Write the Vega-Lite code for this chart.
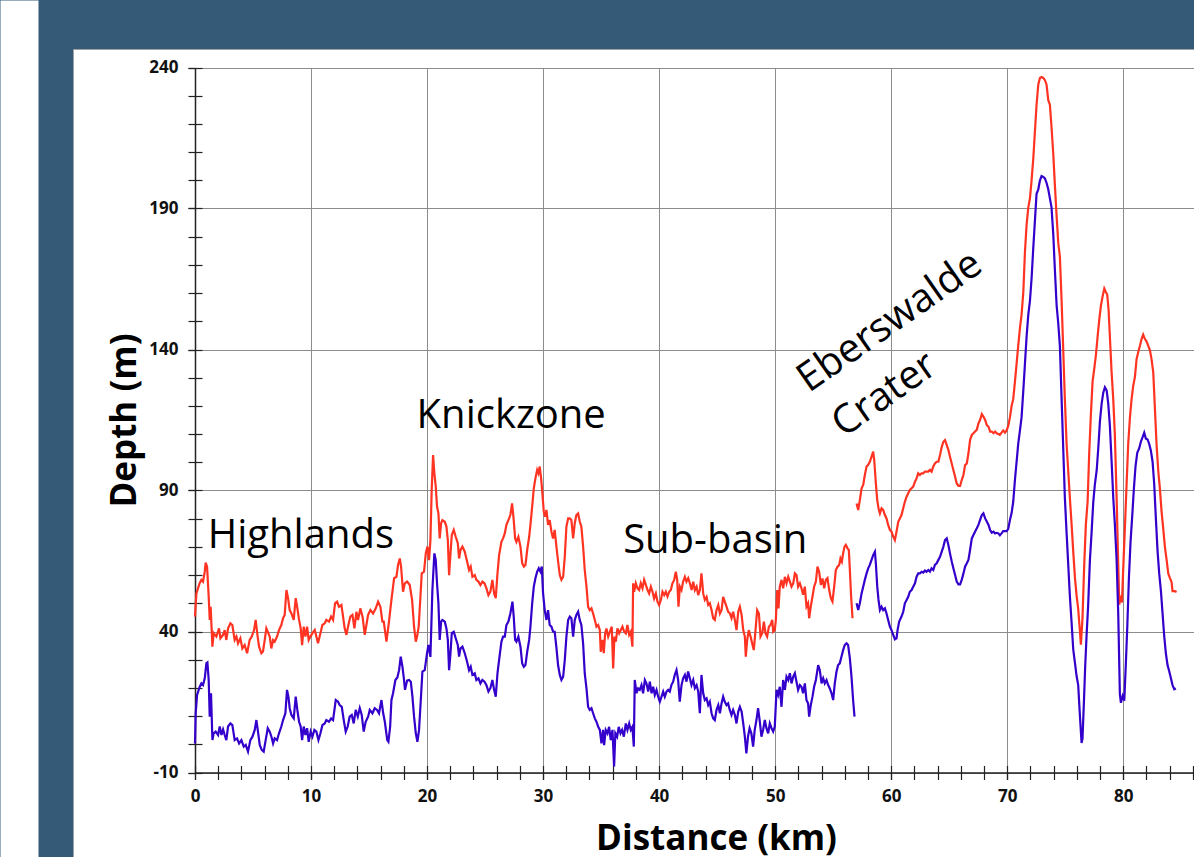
{
"$schema": "https://vega.github.io/schema/vega-lite/v6.json",
"width": 1121, "height": 808,
"autosize": {"type": "none"},
"padding": {"left": 73, "top": 49, "right": 0, "bottom": 0},
"background": "#345a78",
"config": {
 "view": {"fill": "white", "stroke": "#a0a0a0", "strokeWidth": 1},
 "axis": {"labelFont": "Open Sans", "labelFontWeight": "bold", "labelFontSize": 17, "labelColor": "#111", "titleFont": "Open Sans", "titleFontWeight": "bold", "titleFontSize": 35, "titleColor": "#000", "tickColor": "#222", "domainColor": "#222", "gridColor": "#8c8c8c"}
},
"datasets": {
 "labels": [
  {"label": "Highlands", "km": 1.1, "depth": 69.6},
  {"label": "Knickzone", "km": 19.1, "depth": 112.2},
  {"label": "Sub-basin", "km": 36.9, "depth": 67.8}
 ],
 "craterLabels": [
  {"label": "Eberswalde", "km": 52.9, "depth": 124.5},
  {"label": "Crater", "km": 55.9, "depth": 108.6}
 ],
 "profile": [
{"km":0,"depth":45.3,"series":"red","seg":1},{"km":0.12,"depth":53.5,"series":"red","seg":1},{"km":0.4,"depth":57.1,"series":"red","seg":1},{"km":0.55,"depth":58.3,"series":"red","seg":1},{"km":0.69,"depth":57.7,"series":"red","seg":1},{"km":0.84,"depth":61.2,"series":"red","seg":1},{"km":0.92,"depth":64.4,"series":"red","seg":1},{"km":1.04,"depth":63,"series":"red","seg":1},{"km":1.18,"depth":52.3,"series":"red","seg":1},{"km":1.27,"depth":44.1,"series":"red","seg":1},{"km":1.35,"depth":48.8,"series":"red","seg":1},{"km":1.5,"depth":34.6,"series":"red","seg":1},{"km":1.61,"depth":39.4,"series":"red","seg":1},{"km":1.84,"depth":38.2,"series":"red","seg":1},{"km":2.07,"depth":41.1,"series":"red","seg":1},{"km":2.19,"depth":37.6,"series":"red","seg":1},{"km":2.42,"depth":38.8,"series":"red","seg":1},{"km":2.56,"depth":40.5,"series":"red","seg":1},{"km":2.7,"depth":37,"series":"red","seg":1},{"km":2.85,"depth":41.1,"series":"red","seg":1},{"km":3.05,"depth":42.9,"series":"red","seg":1},{"km":3.22,"depth":42.3,"series":"red","seg":1},{"km":3.42,"depth":37,"series":"red","seg":1},{"km":3.57,"depth":38.2,"series":"red","seg":1},{"km":3.71,"depth":35.8,"series":"red","seg":1},{"km":3.91,"depth":37.6,"series":"red","seg":1},{"km":4.08,"depth":34,"series":"red","seg":1},{"km":4.28,"depth":35.2,"series":"red","seg":1},{"km":4.49,"depth":32.3,"series":"red","seg":1},{"km":4.71,"depth":37,"series":"red","seg":1},{"km":4.89,"depth":38.2,"series":"red","seg":1},{"km":5.09,"depth":40.5,"series":"red","seg":1},{"km":5.23,"depth":44.1,"series":"red","seg":1},{"km":5.38,"depth":38.8,"series":"red","seg":1},{"km":5.52,"depth":34.6,"series":"red","seg":1},{"km":5.72,"depth":32.3,"series":"red","seg":1},{"km":5.86,"depth":32.9,"series":"red","seg":1},{"km":6.01,"depth":37,"series":"red","seg":1},{"km":6.15,"depth":41.1,"series":"red","seg":1},{"km":6.32,"depth":39.4,"series":"red","seg":1},{"km":6.44,"depth":38.2,"series":"red","seg":1},{"km":6.58,"depth":34,"series":"red","seg":1},{"km":6.73,"depth":37,"series":"red","seg":1},{"km":6.87,"depth":36.4,"series":"red","seg":1},{"km":7.07,"depth":38.2,"series":"red","seg":1},{"km":7.24,"depth":40.5,"series":"red","seg":1},{"km":7.44,"depth":42.3,"series":"red","seg":1},{"km":7.59,"depth":44.7,"series":"red","seg":1},{"km":7.73,"depth":45.9,"series":"red","seg":1},{"km":7.88,"depth":54.7,"series":"red","seg":1},{"km":8.02,"depth":51.8,"series":"red","seg":1},{"km":8.16,"depth":47.6,"series":"red","seg":1},{"km":8.31,"depth":46.4,"series":"red","seg":1},{"km":8.51,"depth":44.1,"series":"red","seg":1},{"km":8.68,"depth":51.8,"series":"red","seg":1},{"km":8.8,"depth":48.8,"series":"red","seg":1},{"km":8.97,"depth":44.1,"series":"red","seg":1},{"km":9.11,"depth":41.1,"series":"red","seg":1},{"km":9.23,"depth":35.2,"series":"red","seg":1},{"km":9.37,"depth":41.7,"series":"red","seg":1},{"km":9.52,"depth":38.2,"series":"red","seg":1},{"km":9.66,"depth":41.7,"series":"red","seg":1},{"km":9.8,"depth":37,"series":"red","seg":1},{"km":9.95,"depth":38.2,"series":"red","seg":1},{"km":10.12,"depth":39.4,"series":"red","seg":1},{"km":10.32,"depth":40.5,"series":"red","seg":1},{"km":10.46,"depth":38.2,"series":"red","seg":1},{"km":10.6,"depth":35.8,"series":"red","seg":1},{"km":10.81,"depth":39.4,"series":"red","seg":1},{"km":10.98,"depth":42.3,"series":"red","seg":1},{"km":11.18,"depth":42.9,"series":"red","seg":1},{"km":11.32,"depth":44.1,"series":"red","seg":1},{"km":11.55,"depth":43.5,"series":"red","seg":1},{"km":11.73,"depth":45.3,"series":"red","seg":1},{"km":11.9,"depth":44.1,"series":"red","seg":1},{"km":12.07,"depth":50,"series":"red","seg":1},{"km":12.24,"depth":50.6,"series":"red","seg":1},{"km":12.41,"depth":48.8,"series":"red","seg":1},{"km":12.62,"depth":49.4,"series":"red","seg":1},{"km":12.76,"depth":45.3,"series":"red","seg":1},{"km":12.9,"depth":41.1,"series":"red","seg":1},{"km":13.05,"depth":38.8,"series":"red","seg":1},{"km":13.22,"depth":42.3,"series":"red","seg":1},{"km":13.39,"depth":45.3,"series":"red","seg":1},{"km":13.57,"depth":45.9,"series":"red","seg":1},{"km":13.74,"depth":41.1,"series":"red","seg":1},{"km":13.91,"depth":47,"series":"red","seg":1},{"km":14.05,"depth":44.1,"series":"red","seg":1},{"km":14.25,"depth":48.2,"series":"red","seg":1},{"km":14.45,"depth":45,"series":"red","seg":1},{"km":14.63,"depth":38.8,"series":"red","seg":1},{"km":14.92,"depth":45.9,"series":"red","seg":1},{"km":15.12,"depth":47.6,"series":"red","seg":1},{"km":15.35,"depth":46.4,"series":"red","seg":1},{"km":15.58,"depth":48.2,"series":"red","seg":1},{"km":15.78,"depth":50.6,"series":"red","seg":1},{"km":15.98,"depth":48.8,"series":"red","seg":1},{"km":16.15,"depth":43.5,"series":"red","seg":1},{"km":16.27,"depth":43.5,"series":"red","seg":1},{"km":16.5,"depth":36.4,"series":"red","seg":1},{"km":16.7,"depth":42.9,"series":"red","seg":1},{"km":16.93,"depth":51.2,"series":"red","seg":1},{"km":17.16,"depth":58.9,"series":"red","seg":1},{"km":17.36,"depth":59.4,"series":"red","seg":1},{"km":17.5,"depth":63.6,"series":"red","seg":1},{"km":17.65,"depth":65.9,"series":"red","seg":1},{"km":17.76,"depth":63,"series":"red","seg":1},{"km":17.93,"depth":54.1,"series":"red","seg":1},{"km":18.08,"depth":57.1,"series":"red","seg":1},{"km":18.28,"depth":57.7,"series":"red","seg":1},{"km":18.51,"depth":56.5,"series":"red","seg":1},{"km":18.71,"depth":51.2,"series":"red","seg":1},{"km":18.88,"depth":41.7,"series":"red","seg":1},{"km":19.03,"depth":36.4,"series":"red","seg":1},{"km":19.14,"depth":38.2,"series":"red","seg":1},{"km":19.28,"depth":41.7,"series":"red","seg":1},{"km":19.43,"depth":52.4,"series":"red","seg":1},{"km":19.54,"depth":60.6,"series":"red","seg":1},{"km":19.74,"depth":61.2,"series":"red","seg":1},{"km":19.89,"depth":67.7,"series":"red","seg":1},{"km":20.03,"depth":70.1,"series":"red","seg":1},{"km":20.17,"depth":65.3,"series":"red","seg":1},{"km":20.29,"depth":72.4,"series":"red","seg":1},{"km":20.4,"depth":90.2,"series":"red","seg":1},{"km":20.52,"depth":102.6,"series":"red","seg":1},{"km":20.63,"depth":96.1,"series":"red","seg":1},{"km":20.75,"depth":91.4,"series":"red","seg":1},{"km":20.86,"depth":84.3,"series":"red","seg":1},{"km":20.98,"depth":81.9,"series":"red","seg":1},{"km":21.09,"depth":73,"series":"red","seg":1},{"km":21.21,"depth":78.4,"series":"red","seg":1},{"km":21.32,"depth":79.5,"series":"red","seg":1},{"km":21.53,"depth":78.9,"series":"red","seg":1},{"km":21.67,"depth":77.2,"series":"red","seg":1},{"km":21.79,"depth":72.4,"series":"red","seg":1},{"km":21.9,"depth":60,"series":"red","seg":1},{"km":22.02,"depth":67.7,"series":"red","seg":1},{"km":22.13,"depth":74.2,"series":"red","seg":1},{"km":22.3,"depth":76,"series":"red","seg":1},{"km":22.47,"depth":73.6,"series":"red","seg":1},{"km":22.65,"depth":71.3,"series":"red","seg":1},{"km":22.76,"depth":65.9,"series":"red","seg":1},{"km":22.88,"depth":68.9,"series":"red","seg":1},{"km":23.05,"depth":70.1,"series":"red","seg":1},{"km":23.25,"depth":68.3,"series":"red","seg":1},{"km":23.45,"depth":64.8,"series":"red","seg":1},{"km":23.62,"depth":61.8,"series":"red","seg":1},{"km":23.76,"depth":63,"series":"red","seg":1},{"km":23.91,"depth":59.4,"series":"red","seg":1},{"km":24.11,"depth":60,"series":"red","seg":1},{"km":24.25,"depth":58.3,"series":"red","seg":1},{"km":24.43,"depth":57.7,"series":"red","seg":1},{"km":24.6,"depth":56.5,"series":"red","seg":1},{"km":24.77,"depth":57.7,"series":"red","seg":1},{"km":24.95,"depth":57.1,"series":"red","seg":1},{"km":25.12,"depth":55.3,"series":"red","seg":1},{"km":25.29,"depth":52.9,"series":"red","seg":1},{"km":25.46,"depth":54.1,"series":"red","seg":1},{"km":25.63,"depth":58.3,"series":"red","seg":1},{"km":25.78,"depth":53.5,"series":"red","seg":1},{"km":25.92,"depth":51.8,"series":"red","seg":1},{"km":26.07,"depth":60.6,"series":"red","seg":1},{"km":26.21,"depth":67.1,"series":"red","seg":1},{"km":26.41,"depth":71.8,"series":"red","seg":1},{"km":26.55,"depth":73,"series":"red","seg":1},{"km":26.7,"depth":74.8,"series":"red","seg":1},{"km":26.84,"depth":77.8,"series":"red","seg":1},{"km":27.01,"depth":79.5,"series":"red","seg":1},{"km":27.18,"depth":81.3,"series":"red","seg":1},{"km":27.33,"depth":85.4,"series":"red","seg":1},{"km":27.47,"depth":79.5,"series":"red","seg":1},{"km":27.59,"depth":73,"series":"red","seg":1},{"km":27.7,"depth":71.8,"series":"red","seg":1},{"km":27.87,"depth":73.6,"series":"red","seg":1},{"km":28.05,"depth":70.1,"series":"red","seg":1},{"km":28.2,"depth":64.2,"series":"red","seg":1},{"km":28.34,"depth":63,"series":"red","seg":1},{"km":28.48,"depth":63.6,"series":"red","seg":1},{"km":28.63,"depth":68.9,"series":"red","seg":1},{"km":28.8,"depth":73.6,"series":"red","seg":1},{"km":28.91,"depth":77.8,"series":"red","seg":1},{"km":29.06,"depth":84.3,"series":"red","seg":1},{"km":29.2,"depth":90.8,"series":"red","seg":1},{"km":29.34,"depth":94.3,"series":"red","seg":1},{"km":29.49,"depth":97.3,"series":"red","seg":1},{"km":29.6,"depth":96.1,"series":"red","seg":1},{"km":29.71,"depth":98.5,"series":"red","seg":1},{"km":29.83,"depth":94.3,"series":"red","seg":1},{"km":29.94,"depth":89,"series":"red","seg":1},{"km":30.06,"depth":82.5,"series":"red","seg":1},{"km":30.17,"depth":80.7,"series":"red","seg":1},{"km":30.29,"depth":83.1,"series":"red","seg":1},{"km":30.43,"depth":77.8,"series":"red","seg":1},{"km":30.57,"depth":79.5,"series":"red","seg":1},{"km":30.72,"depth":75.4,"series":"red","seg":1},{"km":30.86,"depth":73,"series":"red","seg":1},{"km":31,"depth":76,"series":"red","seg":1},{"km":31.15,"depth":70.1,"series":"red","seg":1},{"km":31.29,"depth":65,"series":"red","seg":1},{"km":31.44,"depth":60,"series":"red","seg":1},{"km":31.58,"depth":58.3,"series":"red","seg":1},{"km":31.73,"depth":59.4,"series":"red","seg":1},{"km":31.87,"depth":66.5,"series":"red","seg":1},{"km":32.01,"depth":77.2,"series":"red","seg":1},{"km":32.16,"depth":80.1,"series":"red","seg":1},{"km":32.3,"depth":80.1,"series":"red","seg":1},{"km":32.44,"depth":79.5,"series":"red","seg":1},{"km":32.59,"depth":73,"series":"red","seg":1},{"km":32.73,"depth":78.4,"series":"red","seg":1},{"km":32.87,"depth":81.3,"series":"red","seg":1},{"km":33.02,"depth":81.9,"series":"red","seg":1},{"km":33.16,"depth":79,"series":"red","seg":1},{"km":33.3,"depth":77.2,"series":"red","seg":1},{"km":33.45,"depth":70.1,"series":"red","seg":1},{"km":33.59,"depth":61.8,"series":"red","seg":1},{"km":33.74,"depth":55.9,"series":"red","seg":1},{"km":33.88,"depth":48.8,"series":"red","seg":1},{"km":34.02,"depth":47.6,"series":"red","seg":1},{"km":34.17,"depth":48.2,"series":"red","seg":1},{"km":34.31,"depth":46.4,"series":"red","seg":1},{"km":34.46,"depth":44.1,"series":"red","seg":1},{"km":34.6,"depth":41.7,"series":"red","seg":1},{"km":34.75,"depth":42.3,"series":"red","seg":1},{"km":34.89,"depth":40.5,"series":"red","seg":1},{"km":34.97,"depth":32.8,"series":"red","seg":1},{"km":35.12,"depth":37,"series":"red","seg":1},{"km":35.23,"depth":32.3,"series":"red","seg":1},{"km":35.35,"depth":39.3,"series":"red","seg":1},{"km":35.46,"depth":41.1,"series":"red","seg":1},{"km":35.61,"depth":38.2,"series":"red","seg":1},{"km":35.75,"depth":39.9,"series":"red","seg":1},{"km":35.92,"depth":41.7,"series":"red","seg":1},{"km":36.04,"depth":26.9,"series":"red","seg":1},{"km":36.15,"depth":38.2,"series":"red","seg":1},{"km":36.27,"depth":36.4,"series":"red","seg":1},{"km":36.41,"depth":41.1,"series":"red","seg":1},{"km":36.56,"depth":39.3,"series":"red","seg":1},{"km":36.7,"depth":40.5,"series":"red","seg":1},{"km":36.84,"depth":41.7,"series":"red","seg":1},{"km":36.99,"depth":39.9,"series":"red","seg":1},{"km":37.13,"depth":39.3,"series":"red","seg":1},{"km":37.27,"depth":42.3,"series":"red","seg":1},{"km":37.42,"depth":38.8,"series":"red","seg":1},{"km":37.56,"depth":39.9,"series":"red","seg":1},{"km":37.7,"depth":34.6,"series":"red","seg":1},{"km":37.76,"depth":57.1,"series":"red","seg":1},{"km":37.85,"depth":54.1,"series":"red","seg":1},{"km":37.99,"depth":57.1,"series":"red","seg":1},{"km":38.14,"depth":55.3,"series":"red","seg":1},{"km":38.28,"depth":54.7,"series":"red","seg":1},{"km":38.42,"depth":57.1,"series":"red","seg":1},{"km":38.57,"depth":55.3,"series":"red","seg":1},{"km":38.71,"depth":58.3,"series":"red","seg":1},{"km":38.86,"depth":56.5,"series":"red","seg":1},{"km":39,"depth":54.7,"series":"red","seg":1},{"km":39.14,"depth":53.5,"series":"red","seg":1},{"km":39.29,"depth":55.9,"series":"red","seg":1},{"km":39.43,"depth":54.1,"series":"red","seg":1},{"km":39.57,"depth":51.7,"series":"red","seg":1},{"km":39.72,"depth":53.5,"series":"red","seg":1},{"km":39.86,"depth":50.6,"series":"red","seg":1},{"km":40,"depth":49.4,"series":"red","seg":1},{"km":40.15,"depth":51.2,"series":"red","seg":1},{"km":40.29,"depth":54.1,"series":"red","seg":1},{"km":40.44,"depth":52.9,"series":"red","seg":1},{"km":40.58,"depth":54.1,"series":"red","seg":1},{"km":40.72,"depth":52.4,"series":"red","seg":1},{"km":40.87,"depth":54.1,"series":"red","seg":1},{"km":41.01,"depth":54.7,"series":"red","seg":1},{"km":41.15,"depth":57.1,"series":"red","seg":1},{"km":41.3,"depth":58.3,"series":"red","seg":1},{"km":41.44,"depth":61.2,"series":"red","seg":1},{"km":41.56,"depth":58.3,"series":"red","seg":1},{"km":41.67,"depth":48.8,"series":"red","seg":1},{"km":41.79,"depth":55.9,"series":"red","seg":1},{"km":41.93,"depth":54.7,"series":"red","seg":1},{"km":42.07,"depth":57.7,"series":"red","seg":1},{"km":42.22,"depth":59.4,"series":"red","seg":1},{"km":42.36,"depth":57.7,"series":"red","seg":1},{"km":42.51,"depth":58.9,"series":"red","seg":1},{"km":42.65,"depth":57.1,"series":"red","seg":1},{"km":42.8,"depth":54.7,"series":"red","seg":1},{"km":42.94,"depth":57.7,"series":"red","seg":1},{"km":43.08,"depth":54.7,"series":"red","seg":1},{"km":43.23,"depth":55.9,"series":"red","seg":1},{"km":43.37,"depth":52.9,"series":"red","seg":1},{"km":43.51,"depth":54.7,"series":"red","seg":1},{"km":43.65,"depth":60.6,"series":"red","seg":1},{"km":43.8,"depth":53.5,"series":"red","seg":1},{"km":43.94,"depth":51.2,"series":"red","seg":1},{"km":44.09,"depth":52.3,"series":"red","seg":1},{"km":44.23,"depth":49.4,"series":"red","seg":1},{"km":44.37,"depth":50,"series":"red","seg":1},{"km":44.52,"depth":47.6,"series":"red","seg":1},{"km":44.66,"depth":44.7,"series":"red","seg":1},{"km":44.8,"depth":44.1,"series":"red","seg":1},{"km":44.95,"depth":47.6,"series":"red","seg":1},{"km":45.1,"depth":49.4,"series":"red","seg":1},{"km":45.24,"depth":46.4,"series":"red","seg":1},{"km":45.38,"depth":47.6,"series":"red","seg":1},{"km":45.52,"depth":52.3,"series":"red","seg":1},{"km":45.66,"depth":50.6,"series":"red","seg":1},{"km":45.81,"depth":48.8,"series":"red","seg":1},{"km":45.95,"depth":47,"series":"red","seg":1},{"km":46.09,"depth":46.5,"series":"red","seg":1},{"km":46.24,"depth":44.7,"series":"red","seg":1},{"km":46.38,"depth":47,"series":"red","seg":1},{"km":46.53,"depth":44.1,"series":"red","seg":1},{"km":46.67,"depth":40.5,"series":"red","seg":1},{"km":46.82,"depth":47,"series":"red","seg":1},{"km":46.96,"depth":48.8,"series":"red","seg":1},{"km":47.11,"depth":45.9,"series":"red","seg":1},{"km":47.25,"depth":40.5,"series":"red","seg":1},{"km":47.39,"depth":38.2,"series":"red","seg":1},{"km":47.47,"depth":31.1,"series":"red","seg":1},{"km":47.59,"depth":37,"series":"red","seg":1},{"km":47.73,"depth":40.5,"series":"red","seg":1},{"km":47.88,"depth":38.2,"series":"red","seg":1},{"km":48.02,"depth":35.8,"series":"red","seg":1},{"km":48.16,"depth":33.4,"series":"red","seg":1},{"km":48.31,"depth":40.5,"series":"red","seg":1},{"km":48.45,"depth":47.6,"series":"red","seg":1},{"km":48.6,"depth":46.4,"series":"red","seg":1},{"km":48.74,"depth":38.2,"series":"red","seg":1},{"km":48.89,"depth":39.4,"series":"red","seg":1},{"km":49.03,"depth":43.5,"series":"red","seg":1},{"km":49.17,"depth":39.3,"series":"red","seg":1},{"km":49.31,"depth":38.2,"series":"red","seg":1},{"km":49.46,"depth":41.7,"series":"red","seg":1},{"km":49.6,"depth":42.3,"series":"red","seg":1},{"km":49.75,"depth":44.1,"series":"red","seg":1},{"km":49.83,"depth":39.9,"series":"red","seg":1},{"km":49.97,"depth":40.5,"series":"red","seg":1},{"km":50.06,"depth":44.1,"series":"red","seg":1},{"km":50.18,"depth":54.7,"series":"red","seg":1},{"km":50.29,"depth":48.2,"series":"red","seg":1},{"km":50.4,"depth":55.9,"series":"red","seg":1},{"km":50.55,"depth":58.3,"series":"red","seg":1},{"km":50.69,"depth":55.3,"series":"red","seg":1},{"km":50.84,"depth":59.4,"series":"red","seg":1},{"km":50.98,"depth":57.1,"series":"red","seg":1},{"km":51.13,"depth":59.4,"series":"red","seg":1},{"km":51.27,"depth":57.7,"series":"red","seg":1},{"km":51.41,"depth":55.9,"series":"red","seg":1},{"km":51.56,"depth":57.1,"series":"red","seg":1},{"km":51.7,"depth":60.6,"series":"red","seg":1},{"km":51.84,"depth":60,"series":"red","seg":1},{"km":51.98,"depth":55.9,"series":"red","seg":1},{"km":52.13,"depth":57.1,"series":"red","seg":1},{"km":52.27,"depth":55.3,"series":"red","seg":1},{"km":52.41,"depth":53,"series":"red","seg":1},{"km":52.56,"depth":55.9,"series":"red","seg":1},{"km":52.7,"depth":48.8,"series":"red","seg":1},{"km":52.84,"depth":50,"series":"red","seg":1},{"km":52.93,"depth":44.7,"series":"red","seg":1},{"km":53.07,"depth":48.8,"series":"red","seg":1},{"km":53.22,"depth":52.4,"series":"red","seg":1},{"km":53.36,"depth":55.9,"series":"red","seg":1},{"km":53.51,"depth":57.7,"series":"red","seg":1},{"km":53.65,"depth":63,"series":"red","seg":1},{"km":53.79,"depth":61.2,"series":"red","seg":1},{"km":53.94,"depth":56.5,"series":"red","seg":1},{"km":54.08,"depth":58.8,"series":"red","seg":1},{"km":54.23,"depth":55.3,"series":"red","seg":1},{"km":54.37,"depth":58.3,"series":"red","seg":1},{"km":54.51,"depth":58.9,"series":"red","seg":1},{"km":54.66,"depth":54.7,"series":"red","seg":1},{"km":54.8,"depth":51.8,"series":"red","seg":1},{"km":54.94,"depth":50.6,"series":"red","seg":1},{"km":55.09,"depth":55.9,"series":"red","seg":1},{"km":55.23,"depth":61.8,"series":"red","seg":1},{"km":55.38,"depth":63,"series":"red","seg":1},{"km":55.52,"depth":63.6,"series":"red","seg":1},{"km":55.63,"depth":65.9,"series":"red","seg":1},{"km":55.75,"depth":64.8,"series":"red","seg":1},{"km":55.86,"depth":67.7,"series":"red","seg":1},{"km":55.98,"depth":70.1,"series":"red","seg":1},{"km":56.09,"depth":70.7,"series":"red","seg":1},{"km":56.24,"depth":69.5,"series":"red","seg":1},{"km":56.35,"depth":68.9,"series":"red","seg":1},{"km":56.44,"depth":61.8,"series":"red","seg":1},{"km":56.55,"depth":52.3,"series":"red","seg":1},{"km":56.67,"depth":44.7,"series":"red","seg":1},
{"km":57.02,"depth":85.4,"series":"red","seg":2},{"km":57.16,"depth":83.1,"series":"red","seg":2},{"km":57.3,"depth":86.6,"series":"red","seg":2},{"km":57.45,"depth":90.8,"series":"red","seg":2},{"km":57.59,"depth":92,"series":"red","seg":2},{"km":57.73,"depth":95.5,"series":"red","seg":2},{"km":57.88,"depth":98.5,"series":"red","seg":2},{"km":58.02,"depth":99.1,"series":"red","seg":2},{"km":58.16,"depth":100.2,"series":"red","seg":2},{"km":58.31,"depth":102,"series":"red","seg":2},{"km":58.45,"depth":103.8,"series":"red","seg":2},{"km":58.54,"depth":100.8,"series":"red","seg":2},{"km":58.68,"depth":92.5,"series":"red","seg":2},{"km":58.8,"depth":86.6,"series":"red","seg":2},{"km":58.91,"depth":83.7,"series":"red","seg":2},{"km":59.03,"depth":81.9,"series":"red","seg":2},{"km":59.17,"depth":83.7,"series":"red","seg":2},{"km":59.31,"depth":83.1,"series":"red","seg":2},{"km":59.46,"depth":81.3,"series":"red","seg":2},{"km":59.6,"depth":80.1,"series":"red","seg":2},{"km":59.74,"depth":77.8,"series":"red","seg":2},{"km":59.89,"depth":76,"series":"red","seg":2},{"km":60.03,"depth":75.4,"series":"red","seg":2},{"km":60.18,"depth":73.6,"series":"red","seg":2},{"km":60.32,"depth":72.4,"series":"red","seg":2},{"km":60.46,"depth":75.4,"series":"red","seg":2},{"km":60.61,"depth":78.9,"series":"red","seg":2},{"km":60.75,"depth":80.1,"series":"red","seg":2},{"km":60.89,"depth":81.3,"series":"red","seg":2},{"km":61.04,"depth":83.7,"series":"red","seg":2},{"km":61.18,"depth":86,"series":"red","seg":2},{"km":61.33,"depth":87.8,"series":"red","seg":2},{"km":61.47,"depth":89,"series":"red","seg":2},{"km":61.61,"depth":90.2,"series":"red","seg":2},{"km":61.76,"depth":90.8,"series":"red","seg":2},{"km":61.9,"depth":91.4,"series":"red","seg":2},{"km":62.05,"depth":93.1,"series":"red","seg":2},{"km":62.19,"depth":94.3,"series":"red","seg":2},{"km":62.33,"depth":96.1,"series":"red","seg":2},{"km":62.48,"depth":95.5,"series":"red","seg":2},{"km":62.62,"depth":96.1,"series":"red","seg":2},{"km":62.77,"depth":96.1,"series":"red","seg":2},{"km":62.91,"depth":96.7,"series":"red","seg":2},{"km":63.05,"depth":96.7,"series":"red","seg":2},{"km":63.2,"depth":96.7,"series":"red","seg":2},{"km":63.34,"depth":97.3,"series":"red","seg":2},{"km":63.48,"depth":96.7,"series":"red","seg":2},{"km":63.63,"depth":98.5,"series":"red","seg":2},{"km":63.77,"depth":99.6,"series":"red","seg":2},{"km":63.92,"depth":100.2,"series":"red","seg":2},{"km":64.07,"depth":100.2,"series":"red","seg":2},{"km":64.21,"depth":102.6,"series":"red","seg":2},{"km":64.36,"depth":105.5,"series":"red","seg":2},{"km":64.5,"depth":107.3,"series":"red","seg":2},{"km":64.64,"depth":107.9,"series":"red","seg":2},{"km":64.79,"depth":106.1,"series":"red","seg":2},{"km":64.93,"depth":104.4,"series":"red","seg":2},{"km":65.07,"depth":102,"series":"red","seg":2},{"km":65.22,"depth":99.6,"series":"red","seg":2},{"km":65.36,"depth":97.3,"series":"red","seg":2},{"km":65.51,"depth":94.9,"series":"red","seg":2},{"km":65.65,"depth":92.5,"series":"red","seg":2},{"km":65.8,"depth":91.6,"series":"red","seg":2},{"km":65.94,"depth":91.6,"series":"red","seg":2},{"km":66.08,"depth":93.7,"series":"red","seg":2},{"km":66.23,"depth":95.5,"series":"red","seg":2},{"km":66.37,"depth":99,"series":"red","seg":2},{"km":66.52,"depth":99.6,"series":"red","seg":2},{"km":66.66,"depth":103.2,"series":"red","seg":2},{"km":66.8,"depth":107.9,"series":"red","seg":2},{"km":66.95,"depth":109.7,"series":"red","seg":2},{"km":67.09,"depth":110.3,"series":"red","seg":2},{"km":67.23,"depth":110.9,"series":"red","seg":2},{"km":67.38,"depth":111.5,"series":"red","seg":2},{"km":67.52,"depth":113.8,"series":"red","seg":2},{"km":67.66,"depth":115,"series":"red","seg":2},{"km":67.81,"depth":117.1,"series":"red","seg":2},{"km":67.95,"depth":116.2,"series":"red","seg":2},{"km":68.1,"depth":115,"series":"red","seg":2},{"km":68.24,"depth":113.2,"series":"red","seg":2},{"km":68.39,"depth":112.6,"series":"red","seg":2},{"km":68.53,"depth":110.9,"series":"red","seg":2},{"km":68.67,"depth":110.9,"series":"red","seg":2},{"km":68.82,"depth":110.3,"series":"red","seg":2},{"km":68.96,"depth":110.9,"series":"red","seg":2},{"km":69.1,"depth":110.3,"series":"red","seg":2},{"km":69.37,"depth":109.7,"series":"red","seg":2},{"km":69.51,"depth":110.5,"series":"red","seg":2},{"km":69.66,"depth":111.3,"series":"red","seg":2},{"km":69.81,"depth":110.5,"series":"red","seg":2},{"km":69.95,"depth":111.3,"series":"red","seg":2},{"km":70.09,"depth":112.9,"series":"red","seg":2},{"km":70.24,"depth":116,"series":"red","seg":2},{"km":70.38,"depth":120,"series":"red","seg":2},{"km":70.52,"depth":122.4,"series":"red","seg":2},{"km":70.67,"depth":128.7,"series":"red","seg":2},{"km":70.81,"depth":135,"series":"red","seg":2},{"km":70.95,"depth":141.3,"series":"red","seg":2},{"km":71.1,"depth":147.7,"series":"red","seg":2},{"km":71.24,"depth":152.4,"series":"red","seg":2},{"km":71.39,"depth":160.4,"series":"red","seg":2},{"km":71.53,"depth":174.6,"series":"red","seg":2},{"km":71.67,"depth":184.1,"series":"red","seg":2},{"km":71.82,"depth":190.4,"series":"red","seg":2},{"km":71.96,"depth":193.6,"series":"red","seg":2},{"km":72.1,"depth":199.9,"series":"red","seg":2},{"km":72.25,"depth":207.8,"series":"red","seg":2},{"km":72.39,"depth":217.3,"series":"red","seg":2},{"km":72.53,"depth":226.8,"series":"red","seg":2},{"km":72.68,"depth":234,"series":"red","seg":2},{"km":72.82,"depth":236.3,"series":"red","seg":2},{"km":72.96,"depth":236.6,"series":"red","seg":2},{"km":73.11,"depth":236.3,"series":"red","seg":2},{"km":73.25,"depth":235.5,"series":"red","seg":2},{"km":73.39,"depth":234,"series":"red","seg":2},{"km":73.54,"depth":228.4,"series":"red","seg":2},{"km":73.68,"depth":226.8,"series":"red","seg":2},{"km":73.82,"depth":218.9,"series":"red","seg":2},{"km":73.97,"depth":209.4,"series":"red","seg":2},{"km":74.11,"depth":198.3,"series":"red","seg":2},{"km":74.26,"depth":187.3,"series":"red","seg":2},{"km":74.4,"depth":177.8,"series":"red","seg":2},{"km":74.54,"depth":173,"series":"red","seg":2},{"km":74.69,"depth":157.2,"series":"red","seg":2},{"km":74.83,"depth":139.8,"series":"red","seg":2},{"km":74.97,"depth":122.4,"series":"red","seg":2},{"km":75.12,"depth":106.5,"series":"red","seg":2},{"km":75.26,"depth":97,"series":"red","seg":2},{"km":75.4,"depth":87.5,"series":"red","seg":2},{"km":75.55,"depth":78,"series":"red","seg":2},{"km":75.69,"depth":68.5,"series":"red","seg":2},{"km":75.84,"depth":59,"series":"red","seg":2},{"km":75.98,"depth":52.7,"series":"red","seg":2},{"km":76.12,"depth":48,"series":"red","seg":2},{"km":76.27,"depth":40,"series":"red","seg":2},{"km":76.35,"depth":35.3,"series":"red","seg":2},{"km":76.49,"depth":44.8,"series":"red","seg":2},{"km":76.64,"depth":63.8,"series":"red","seg":2},{"km":76.78,"depth":78,"series":"red","seg":2},{"km":76.93,"depth":86,"series":"red","seg":2},{"km":77.07,"depth":103.4,"series":"red","seg":2},{"km":77.22,"depth":117.6,"series":"red","seg":2},{"km":77.36,"depth":128.7,"series":"red","seg":2},{"km":77.51,"depth":133.4,"series":"red","seg":2},{"km":77.65,"depth":138.2,"series":"red","seg":2},{"km":77.79,"depth":144.5,"series":"red","seg":2},{"km":77.94,"depth":150.8,"series":"red","seg":2},{"km":78.08,"depth":155.6,"series":"red","seg":2},{"km":78.22,"depth":158.8,"series":"red","seg":2},{"km":78.37,"depth":161.6,"series":"red","seg":2},{"km":78.51,"depth":160.3,"series":"red","seg":2},{"km":78.62,"depth":159.5,"series":"red","seg":2},{"km":78.74,"depth":154,"series":"red","seg":2},{"km":78.85,"depth":144.5,"series":"red","seg":2},{"km":79,"depth":131.8,"series":"red","seg":2},{"km":79.14,"depth":122.4,"series":"red","seg":2},{"km":79.28,"depth":109.7,"series":"red","seg":2},{"km":79.43,"depth":87.5,"series":"red","seg":2},{"km":79.57,"depth":63.8,"series":"red","seg":2},{"km":79.66,"depth":49.5,"series":"red","seg":2},{"km":79.77,"depth":52.7,"series":"red","seg":2},{"km":79.89,"depth":50.3,"series":"red","seg":2},{"km":80,"depth":62.2,"series":"red","seg":2},{"km":80.14,"depth":76.4,"series":"red","seg":2},{"km":80.29,"depth":92.3,"series":"red","seg":2},{"km":80.43,"depth":106.5,"series":"red","seg":2},{"km":80.58,"depth":116,"series":"red","seg":2},{"km":80.72,"depth":122.4,"series":"red","seg":2},{"km":80.86,"depth":127.1,"series":"red","seg":2},{"km":81.01,"depth":130.3,"series":"red","seg":2},{"km":81.15,"depth":136.6,"series":"red","seg":2},{"km":81.29,"depth":139,"series":"red","seg":2},{"km":81.44,"depth":141.3,"series":"red","seg":2},{"km":81.58,"depth":143.7,"series":"red","seg":2},{"km":81.72,"depth":145.3,"series":"red","seg":2},{"km":81.87,"depth":143.7,"series":"red","seg":2},{"km":82.01,"depth":142.9,"series":"red","seg":2},{"km":82.16,"depth":141.3,"series":"red","seg":2},{"km":82.3,"depth":139.8,"series":"red","seg":2},{"km":82.44,"depth":136.6,"series":"red","seg":2},{"km":82.59,"depth":131.8,"series":"red","seg":2},{"km":82.73,"depth":119.2,"series":"red","seg":2},{"km":82.87,"depth":106.5,"series":"red","seg":2},{"km":83.02,"depth":97,"series":"red","seg":2},{"km":83.16,"depth":90.7,"series":"red","seg":2},{"km":83.3,"depth":82.8,"series":"red","seg":2},{"km":83.45,"depth":76.4,"series":"red","seg":2},{"km":83.59,"depth":70.1,"series":"red","seg":2},{"km":83.74,"depth":65.4,"series":"red","seg":2},{"km":83.88,"depth":60.6,"series":"red","seg":2},{"km":84.02,"depth":59,"series":"red","seg":2},{"km":84.17,"depth":57.5,"series":"red","seg":2},{"km":84.25,"depth":54.3,"series":"red","seg":2},{"km":84.45,"depth":54.3,"series":"red","seg":2},{"km":84.6,"depth":54,"series":"red","seg":2},
{"km":0,"depth":0.3,"series":"blue","seg":1},{"km":0.06,"depth":11,"series":"blue","seg":1},{"km":0.18,"depth":17.5,"series":"blue","seg":1},{"km":0.41,"depth":20.4,"series":"blue","seg":1},{"km":0.55,"depth":21.6,"series":"blue","seg":1},{"km":0.69,"depth":21,"series":"blue","seg":1},{"km":0.84,"depth":23.4,"series":"blue","seg":1},{"km":0.98,"depth":28.7,"series":"blue","seg":1},{"km":1.07,"depth":29,"series":"blue","seg":1},{"km":1.18,"depth":22.8,"series":"blue","seg":1},{"km":1.27,"depth":9.8,"series":"blue","seg":1},{"km":1.38,"depth":18.1,"series":"blue","seg":1},{"km":1.5,"depth":1.5,"series":"blue","seg":1},{"km":1.61,"depth":3.9,"series":"blue","seg":1},{"km":1.78,"depth":4.5,"series":"blue","seg":1},{"km":1.99,"depth":3.3,"series":"blue","seg":1},{"km":2.13,"depth":6.3,"series":"blue","seg":1},{"km":2.28,"depth":3.3,"series":"blue","seg":1},{"km":2.42,"depth":5.3,"series":"blue","seg":1},{"km":2.56,"depth":3.3,"series":"blue","seg":1},{"km":2.7,"depth":1.5,"series":"blue","seg":1},{"km":2.85,"depth":6.3,"series":"blue","seg":1},{"km":3.05,"depth":7.4,"series":"blue","seg":1},{"km":3.22,"depth":6.8,"series":"blue","seg":1},{"km":3.42,"depth":1.5,"series":"blue","seg":1},{"km":3.62,"depth":2.1,"series":"blue","seg":1},{"km":3.8,"depth":0.3,"series":"blue","seg":1},{"km":4,"depth":1.5,"series":"blue","seg":1},{"km":4.2,"depth":-0.8,"series":"blue","seg":1},{"km":4.37,"depth":-0.2,"series":"blue","seg":1},{"km":4.57,"depth":-2.6,"series":"blue","seg":1},{"km":4.77,"depth":1.5,"series":"blue","seg":1},{"km":4.95,"depth":2.7,"series":"blue","seg":1},{"km":5.15,"depth":5.1,"series":"blue","seg":1},{"km":5.29,"depth":8.6,"series":"blue","seg":1},{"km":5.43,"depth":4.5,"series":"blue","seg":1},{"km":5.58,"depth":-0.2,"series":"blue","seg":1},{"km":5.75,"depth":-2,"series":"blue","seg":1},{"km":5.92,"depth":-2.6,"series":"blue","seg":1},{"km":6.09,"depth":1.5,"series":"blue","seg":1},{"km":6.27,"depth":5.7,"series":"blue","seg":1},{"km":6.44,"depth":4.5,"series":"blue","seg":1},{"km":6.59,"depth":2.7,"series":"blue","seg":1},{"km":6.73,"depth":0.3,"series":"blue","seg":1},{"km":6.87,"depth":2.1,"series":"blue","seg":1},{"km":7.07,"depth":1.5,"series":"blue","seg":1},{"km":7.24,"depth":3.9,"series":"blue","seg":1},{"km":7.44,"depth":6.3,"series":"blue","seg":1},{"km":7.59,"depth":8.6,"series":"blue","seg":1},{"km":7.79,"depth":11,"series":"blue","seg":1},{"km":7.93,"depth":19.3,"series":"blue","seg":1},{"km":8.05,"depth":16.9,"series":"blue","seg":1},{"km":8.16,"depth":12.8,"series":"blue","seg":1},{"km":8.31,"depth":10.4,"series":"blue","seg":1},{"km":8.51,"depth":9.2,"series":"blue","seg":1},{"km":8.68,"depth":16.9,"series":"blue","seg":1},{"km":8.82,"depth":12.2,"series":"blue","seg":1},{"km":8.97,"depth":8,"series":"blue","seg":1},{"km":9.11,"depth":6.3,"series":"blue","seg":1},{"km":9.23,"depth":1.5,"series":"blue","seg":1},{"km":9.37,"depth":6.3,"series":"blue","seg":1},{"km":9.52,"depth":3.3,"series":"blue","seg":1},{"km":9.66,"depth":5.7,"series":"blue","seg":1},{"km":9.8,"depth":0.9,"series":"blue","seg":1},{"km":9.97,"depth":4.5,"series":"blue","seg":1},{"km":10.12,"depth":2.7,"series":"blue","seg":1},{"km":10.29,"depth":5.1,"series":"blue","seg":1},{"km":10.46,"depth":4.5,"series":"blue","seg":1},{"km":10.64,"depth":1.5,"series":"blue","seg":1},{"km":10.81,"depth":3.9,"series":"blue","seg":1},{"km":10.98,"depth":6.8,"series":"blue","seg":1},{"km":11.18,"depth":7.4,"series":"blue","seg":1},{"km":11.32,"depth":8.6,"series":"blue","seg":1},{"km":11.55,"depth":8,"series":"blue","seg":1},{"km":11.73,"depth":9.2,"series":"blue","seg":1},{"km":11.9,"depth":8.6,"series":"blue","seg":1},{"km":12.13,"depth":15.7,"series":"blue","seg":1},{"km":12.33,"depth":15.1,"series":"blue","seg":1},{"km":12.47,"depth":13.9,"series":"blue","seg":1},{"km":12.65,"depth":13.3,"series":"blue","seg":1},{"km":12.82,"depth":8.6,"series":"blue","seg":1},{"km":12.99,"depth":4.5,"series":"blue","seg":1},{"km":13.16,"depth":6.3,"series":"blue","seg":1},{"km":13.33,"depth":9.8,"series":"blue","seg":1},{"km":13.51,"depth":10.4,"series":"blue","seg":1},{"km":13.68,"depth":7.4,"series":"blue","seg":1},{"km":13.85,"depth":12.2,"series":"blue","seg":1},{"km":14.03,"depth":9.8,"series":"blue","seg":1},{"km":14.2,"depth":12.8,"series":"blue","seg":1},{"km":14.37,"depth":10.4,"series":"blue","seg":1},{"km":14.54,"depth":4.5,"series":"blue","seg":1},{"km":14.71,"depth":8,"series":"blue","seg":1},{"km":14.92,"depth":9.8,"series":"blue","seg":1},{"km":15.06,"depth":12.2,"series":"blue","seg":1},{"km":15.29,"depth":11,"series":"blue","seg":1},{"km":15.49,"depth":12.8,"series":"blue","seg":1},{"km":15.69,"depth":12.2,"series":"blue","seg":1},{"km":15.86,"depth":11,"series":"blue","seg":1},{"km":16.07,"depth":15.7,"series":"blue","seg":1},{"km":16.22,"depth":11,"series":"blue","seg":1},{"km":16.36,"depth":8,"series":"blue","seg":1},{"km":16.57,"depth":1.5,"series":"blue","seg":1},{"km":16.67,"depth":0.9,"series":"blue","seg":1},{"km":16.82,"depth":6.3,"series":"blue","seg":1},{"km":16.93,"depth":15.7,"series":"blue","seg":1},{"km":17.07,"depth":18.1,"series":"blue","seg":1},{"km":17.27,"depth":22.8,"series":"blue","seg":1},{"km":17.44,"depth":23.7,"series":"blue","seg":1},{"km":17.59,"depth":26.3,"series":"blue","seg":1},{"km":17.73,"depth":31.1,"series":"blue","seg":1},{"km":17.88,"depth":27.5,"series":"blue","seg":1},{"km":18,"depth":23.4,"series":"blue","seg":1},{"km":18.1,"depth":19.3,"series":"blue","seg":1},{"km":18.28,"depth":22.6,"series":"blue","seg":1},{"km":18.45,"depth":22.8,"series":"blue","seg":1},{"km":18.6,"depth":22.2,"series":"blue","seg":1},{"km":18.74,"depth":16.9,"series":"blue","seg":1},{"km":18.88,"depth":9.8,"series":"blue","seg":1},{"km":19.03,"depth":3.9,"series":"blue","seg":1},{"km":19.17,"depth":0.9,"series":"blue","seg":1},{"km":19.31,"depth":5.1,"series":"blue","seg":1},{"km":19.46,"depth":15.7,"series":"blue","seg":1},{"km":19.6,"depth":25.8,"series":"blue","seg":1},{"km":19.8,"depth":26.3,"series":"blue","seg":1},{"km":20,"depth":32.3,"series":"blue","seg":1},{"km":20.12,"depth":35.2,"series":"blue","seg":1},{"km":20.29,"depth":31,"series":"blue","seg":1},{"km":20.46,"depth":54.7,"series":"blue","seg":1},{"km":20.63,"depth":67.7,"series":"blue","seg":1},{"km":20.75,"depth":65.3,"series":"blue","seg":1},{"km":20.86,"depth":57.1,"series":"blue","seg":1},{"km":20.98,"depth":50,"series":"blue","seg":1},{"km":21.09,"depth":37,"series":"blue","seg":1},{"km":21.21,"depth":43.5,"series":"blue","seg":1},{"km":21.32,"depth":44.1,"series":"blue","seg":1},{"km":21.53,"depth":43.5,"series":"blue","seg":1},{"km":21.67,"depth":41.1,"series":"blue","seg":1},{"km":21.79,"depth":37,"series":"blue","seg":1},{"km":21.9,"depth":26.3,"series":"blue","seg":1},{"km":22.02,"depth":32.3,"series":"blue","seg":1},{"km":22.13,"depth":39.4,"series":"blue","seg":1},{"km":22.3,"depth":39.9,"series":"blue","seg":1},{"km":22.47,"depth":37.6,"series":"blue","seg":1},{"km":22.65,"depth":35.2,"series":"blue","seg":1},{"km":22.76,"depth":31.1,"series":"blue","seg":1},{"km":22.88,"depth":34,"series":"blue","seg":1},{"km":23.05,"depth":34.6,"series":"blue","seg":1},{"km":23.25,"depth":32.3,"series":"blue","seg":1},{"km":23.45,"depth":29.3,"series":"blue","seg":1},{"km":23.62,"depth":26.3,"series":"blue","seg":1},{"km":23.76,"depth":27.5,"series":"blue","seg":1},{"km":23.91,"depth":24.6,"series":"blue","seg":1},{"km":24.11,"depth":25.2,"series":"blue","seg":1},{"km":24.25,"depth":22.8,"series":"blue","seg":1},{"km":24.43,"depth":23.4,"series":"blue","seg":1},{"km":24.6,"depth":21.6,"series":"blue","seg":1},{"km":24.77,"depth":22.8,"series":"blue","seg":1},{"km":24.95,"depth":22.2,"series":"blue","seg":1},{"km":25.12,"depth":21,"series":"blue","seg":1},{"km":25.29,"depth":18.7,"series":"blue","seg":1},{"km":25.46,"depth":19.9,"series":"blue","seg":1},{"km":25.63,"depth":22.8,"series":"blue","seg":1},{"km":25.78,"depth":19.3,"series":"blue","seg":1},{"km":25.92,"depth":16.9,"series":"blue","seg":1},{"km":26.07,"depth":25.2,"series":"blue","seg":1},{"km":26.21,"depth":29.9,"series":"blue","seg":1},{"km":26.41,"depth":36.4,"series":"blue","seg":1},{"km":26.55,"depth":38.2,"series":"blue","seg":1},{"km":26.7,"depth":38.2,"series":"blue","seg":1},{"km":26.84,"depth":42.3,"series":"blue","seg":1},{"km":27.01,"depth":43.5,"series":"blue","seg":1},{"km":27.18,"depth":46.4,"series":"blue","seg":1},{"km":27.36,"depth":50.6,"series":"blue","seg":1},{"km":27.47,"depth":45.3,"series":"blue","seg":1},{"km":27.59,"depth":37,"series":"blue","seg":1},{"km":27.7,"depth":36.4,"series":"blue","seg":1},{"km":27.87,"depth":38.2,"series":"blue","seg":1},{"km":28.05,"depth":34.6,"series":"blue","seg":1},{"km":28.2,"depth":28.7,"series":"blue","seg":1},{"km":28.34,"depth":27.5,"series":"blue","seg":1},{"km":28.48,"depth":28.1,"series":"blue","seg":1},{"km":28.63,"depth":32.8,"series":"blue","seg":1},{"km":28.8,"depth":37,"series":"blue","seg":1},{"km":28.91,"depth":41.7,"series":"blue","seg":1},{"km":29.06,"depth":50,"series":"blue","seg":1},{"km":29.2,"depth":55.9,"series":"blue","seg":1},{"km":29.34,"depth":58.9,"series":"blue","seg":1},{"km":29.49,"depth":61.2,"series":"blue","seg":1},{"km":29.63,"depth":62.4,"series":"blue","seg":1},{"km":29.77,"depth":61.2,"series":"blue","seg":1},{"km":29.89,"depth":63,"series":"blue","seg":1},{"km":30,"depth":53.5,"series":"blue","seg":1},{"km":30.14,"depth":47.6,"series":"blue","seg":1},{"km":30.29,"depth":44.1,"series":"blue","seg":1},{"km":30.43,"depth":47.6,"series":"blue","seg":1},{"km":30.57,"depth":42.3,"series":"blue","seg":1},{"km":30.72,"depth":41.7,"series":"blue","seg":1},{"km":30.86,"depth":40,"series":"blue","seg":1},{"km":31,"depth":39.9,"series":"blue","seg":1},{"km":31.15,"depth":34.3,"series":"blue","seg":1},{"km":31.29,"depth":28.1,"series":"blue","seg":1},{"km":31.44,"depth":24.6,"series":"blue","seg":1},{"km":31.58,"depth":22.8,"series":"blue","seg":1},{"km":31.73,"depth":24,"series":"blue","seg":1},{"km":31.87,"depth":29.9,"series":"blue","seg":1},{"km":32.01,"depth":38.2,"series":"blue","seg":1},{"km":32.16,"depth":44.1,"series":"blue","seg":1},{"km":32.3,"depth":45.3,"series":"blue","seg":1},{"km":32.44,"depth":44.7,"series":"blue","seg":1},{"km":32.59,"depth":38.2,"series":"blue","seg":1},{"km":32.73,"depth":44.1,"series":"blue","seg":1},{"km":32.87,"depth":45.9,"series":"blue","seg":1},{"km":33.02,"depth":47,"series":"blue","seg":1},{"km":33.16,"depth":44.1,"series":"blue","seg":1},{"km":33.3,"depth":42.3,"series":"blue","seg":1},{"km":33.45,"depth":35.8,"series":"blue","seg":1},{"km":33.59,"depth":25.2,"series":"blue","seg":1},{"km":33.74,"depth":19.8,"series":"blue","seg":1},{"km":33.88,"depth":13.3,"series":"blue","seg":1},{"km":34.02,"depth":12.2,"series":"blue","seg":1},{"km":34.17,"depth":12.8,"series":"blue","seg":1},{"km":34.31,"depth":11,"series":"blue","seg":1},{"km":34.46,"depth":9.2,"series":"blue","seg":1},{"km":34.6,"depth":8,"series":"blue","seg":1},{"km":34.75,"depth":6.2,"series":"blue","seg":1},{"km":34.89,"depth":5.1,"series":"blue","seg":1},{"km":35.03,"depth":0.3,"series":"blue","seg":1},{"km":35.17,"depth":5.1,"series":"blue","seg":1},{"km":35.26,"depth":-0.3,"series":"blue","seg":1},{"km":35.4,"depth":5.1,"series":"blue","seg":1},{"km":35.55,"depth":3.9,"series":"blue","seg":1},{"km":35.69,"depth":6.2,"series":"blue","seg":1},{"km":35.83,"depth":1.5,"series":"blue","seg":1},{"km":35.98,"depth":5.1,"series":"blue","seg":1},{"km":36.12,"depth":-7.9,"series":"blue","seg":1},{"km":36.23,"depth":3.9,"series":"blue","seg":1},{"km":36.38,"depth":2.7,"series":"blue","seg":1},{"km":36.52,"depth":6.2,"series":"blue","seg":1},{"km":36.67,"depth":3.9,"series":"blue","seg":1},{"km":36.81,"depth":5.1,"series":"blue","seg":1},{"km":36.96,"depth":2.7,"series":"blue","seg":1},{"km":37.13,"depth":7.4,"series":"blue","seg":1},{"km":37.27,"depth":5.1,"series":"blue","seg":1},{"km":37.42,"depth":7.4,"series":"blue","seg":1},{"km":37.56,"depth":5.1,"series":"blue","seg":1},{"km":37.7,"depth":6.2,"series":"blue","seg":1},{"km":37.82,"depth":-0.8,"series":"blue","seg":1},{"km":37.9,"depth":22.8,"series":"blue","seg":1},{"km":38.05,"depth":18.1,"series":"blue","seg":1},{"km":38.19,"depth":19.8,"series":"blue","seg":1},{"km":38.33,"depth":19.3,"series":"blue","seg":1},{"km":38.48,"depth":21,"series":"blue","seg":1},{"km":38.62,"depth":18.1,"series":"blue","seg":1},{"km":38.77,"depth":22.8,"series":"blue","seg":1},{"km":38.91,"depth":21.6,"series":"blue","seg":1},{"km":39.06,"depth":18.7,"series":"blue","seg":1},{"km":39.2,"depth":22.2,"series":"blue","seg":1},{"km":39.35,"depth":18.1,"series":"blue","seg":1},{"km":39.49,"depth":20.4,"series":"blue","seg":1},{"km":39.63,"depth":17.5,"series":"blue","seg":1},{"km":39.78,"depth":19.3,"series":"blue","seg":1},{"km":39.92,"depth":16.9,"series":"blue","seg":1},{"km":40.06,"depth":15.1,"series":"blue","seg":1},{"km":40.21,"depth":16.9,"series":"blue","seg":1},{"km":40.35,"depth":18.7,"series":"blue","seg":1},{"km":40.49,"depth":16.9,"series":"blue","seg":1},{"km":40.64,"depth":18.7,"series":"blue","seg":1},{"km":40.78,"depth":19.3,"series":"blue","seg":1},{"km":40.92,"depth":18.7,"series":"blue","seg":1},{"km":41.06,"depth":21,"series":"blue","seg":1},{"km":41.21,"depth":22.2,"series":"blue","seg":1},{"km":41.35,"depth":24.6,"series":"blue","seg":1},{"km":41.5,"depth":26.3,"series":"blue","seg":1},{"km":41.64,"depth":22.8,"series":"blue","seg":1},{"km":41.78,"depth":15.1,"series":"blue","seg":1},{"km":41.93,"depth":21,"series":"blue","seg":1},{"km":42.07,"depth":23.4,"series":"blue","seg":1},{"km":42.22,"depth":24.6,"series":"blue","seg":1},{"km":42.36,"depth":22.2,"series":"blue","seg":1},{"km":42.5,"depth":25.8,"series":"blue","seg":1},{"km":42.65,"depth":23.4,"series":"blue","seg":1},{"km":42.79,"depth":21,"series":"blue","seg":1},{"km":42.94,"depth":22.8,"series":"blue","seg":1},{"km":43.08,"depth":19.9,"series":"blue","seg":1},{"km":43.23,"depth":21,"series":"blue","seg":1},{"km":43.37,"depth":18.7,"series":"blue","seg":1},{"km":43.51,"depth":11,"series":"blue","seg":1},{"km":43.65,"depth":24.6,"series":"blue","seg":1},{"km":43.8,"depth":18.1,"series":"blue","seg":1},{"km":43.94,"depth":15.7,"series":"blue","seg":1},{"km":44.09,"depth":16.3,"series":"blue","seg":1},{"km":44.23,"depth":13.9,"series":"blue","seg":1},{"km":44.37,"depth":15.1,"series":"blue","seg":1},{"km":44.52,"depth":11,"series":"blue","seg":1},{"km":44.66,"depth":9.2,"series":"blue","seg":1},{"km":44.8,"depth":8.6,"series":"blue","seg":1},{"km":44.95,"depth":12.2,"series":"blue","seg":1},{"km":45.1,"depth":13.9,"series":"blue","seg":1},{"km":45.24,"depth":11,"series":"blue","seg":1},{"km":45.38,"depth":14.5,"series":"blue","seg":1},{"km":45.52,"depth":16.9,"series":"blue","seg":1},{"km":45.66,"depth":15.1,"series":"blue","seg":1},{"km":45.81,"depth":13.9,"series":"blue","seg":1},{"km":45.95,"depth":14.5,"series":"blue","seg":1},{"km":46.09,"depth":12.2,"series":"blue","seg":1},{"km":46.24,"depth":10.4,"series":"blue","seg":1},{"km":46.38,"depth":12.2,"series":"blue","seg":1},{"km":46.53,"depth":10.4,"series":"blue","seg":1},{"km":46.67,"depth":7.4,"series":"blue","seg":1},{"km":46.82,"depth":11.6,"series":"blue","seg":1},{"km":46.96,"depth":13.3,"series":"blue","seg":1},{"km":47.11,"depth":11.6,"series":"blue","seg":1},{"km":47.25,"depth":7.4,"series":"blue","seg":1},{"km":47.39,"depth":2.7,"series":"blue","seg":1},{"km":47.52,"depth":-3.2,"series":"blue","seg":1},{"km":47.66,"depth":2.7,"series":"blue","seg":1},{"km":47.8,"depth":5.7,"series":"blue","seg":1},{"km":47.95,"depth":3.9,"series":"blue","seg":1},{"km":48.1,"depth":-0.8,"series":"blue","seg":1},{"km":48.24,"depth":5.1,"series":"blue","seg":1},{"km":48.39,"depth":8.6,"series":"blue","seg":1},{"km":48.53,"depth":12.8,"series":"blue","seg":1},{"km":48.68,"depth":8,"series":"blue","seg":1},{"km":48.82,"depth":2.7,"series":"blue","seg":1},{"km":48.96,"depth":5.1,"series":"blue","seg":1},{"km":49.11,"depth":8.6,"series":"blue","seg":1},{"km":49.25,"depth":5.7,"series":"blue","seg":1},{"km":49.4,"depth":3.9,"series":"blue","seg":1},{"km":49.54,"depth":7.4,"series":"blue","seg":1},{"km":49.69,"depth":5.7,"series":"blue","seg":1},{"km":49.83,"depth":4.5,"series":"blue","seg":1},{"km":49.97,"depth":6.3,"series":"blue","seg":1},{"km":50.12,"depth":19.3,"series":"blue","seg":1},{"km":50.26,"depth":17.5,"series":"blue","seg":1},{"km":50.4,"depth":20.4,"series":"blue","seg":1},{"km":50.55,"depth":13.3,"series":"blue","seg":1},{"km":50.69,"depth":22.8,"series":"blue","seg":1},{"km":50.84,"depth":19.3,"series":"blue","seg":1},{"km":50.98,"depth":24,"series":"blue","seg":1},{"km":51.13,"depth":22.8,"series":"blue","seg":1},{"km":51.27,"depth":25.2,"series":"blue","seg":1},{"km":51.41,"depth":21.6,"series":"blue","seg":1},{"km":51.56,"depth":24,"series":"blue","seg":1},{"km":51.7,"depth":25.2,"series":"blue","seg":1},{"km":51.84,"depth":22.2,"series":"blue","seg":1},{"km":51.98,"depth":19.3,"series":"blue","seg":1},{"km":52.13,"depth":21,"series":"blue","seg":1},{"km":52.27,"depth":20.4,"series":"blue","seg":1},{"km":52.41,"depth":18.1,"series":"blue","seg":1},{"km":52.56,"depth":21.6,"series":"blue","seg":1},{"km":52.7,"depth":15.7,"series":"blue","seg":1},{"km":52.84,"depth":14.5,"series":"blue","seg":1},{"km":52.93,"depth":9.8,"series":"blue","seg":1},{"km":53.07,"depth":13.9,"series":"blue","seg":1},{"km":53.22,"depth":16.9,"series":"blue","seg":1},{"km":53.36,"depth":20.4,"series":"blue","seg":1},{"km":53.51,"depth":22.8,"series":"blue","seg":1},{"km":53.71,"depth":28.1,"series":"blue","seg":1},{"km":53.85,"depth":26.3,"series":"blue","seg":1},{"km":54,"depth":21.6,"series":"blue","seg":1},{"km":54.14,"depth":23.4,"series":"blue","seg":1},{"km":54.28,"depth":21.6,"series":"blue","seg":1},{"km":54.43,"depth":22.8,"series":"blue","seg":1},{"km":54.57,"depth":21,"series":"blue","seg":1},{"km":54.71,"depth":19.8,"series":"blue","seg":1},{"km":54.86,"depth":18.1,"series":"blue","seg":1},{"km":55,"depth":15.7,"series":"blue","seg":1},{"km":55.14,"depth":21.6,"series":"blue","seg":1},{"km":55.29,"depth":25.8,"series":"blue","seg":1},{"km":55.43,"depth":28.1,"series":"blue","seg":1},{"km":55.57,"depth":28.7,"series":"blue","seg":1},{"km":55.72,"depth":31.1,"series":"blue","seg":1},{"km":55.86,"depth":33.4,"series":"blue","seg":1},{"km":56,"depth":35.2,"series":"blue","seg":1},{"km":56.15,"depth":35.8,"series":"blue","seg":1},{"km":56.29,"depth":35.2,"series":"blue","seg":1},{"km":56.44,"depth":30.5,"series":"blue","seg":1},{"km":56.58,"depth":24,"series":"blue","seg":1},{"km":56.72,"depth":15.7,"series":"blue","seg":1},{"km":56.84,"depth":9.8,"series":"blue","seg":1},
{"km":57.02,"depth":50,"series":"blue","seg":2},{"km":57.16,"depth":47.6,"series":"blue","seg":2},{"km":57.3,"depth":50,"series":"blue","seg":2},{"km":57.45,"depth":53.5,"series":"blue","seg":2},{"km":57.59,"depth":55.9,"series":"blue","seg":2},{"km":57.73,"depth":58.3,"series":"blue","seg":2},{"km":57.88,"depth":60.6,"series":"blue","seg":2},{"km":58.02,"depth":62.4,"series":"blue","seg":2},{"km":58.16,"depth":63.6,"series":"blue","seg":2},{"km":58.31,"depth":65.4,"series":"blue","seg":2},{"km":58.45,"depth":67.1,"series":"blue","seg":2},{"km":58.6,"depth":68.3,"series":"blue","seg":2},{"km":58.68,"depth":64.2,"series":"blue","seg":2},{"km":58.8,"depth":55.9,"series":"blue","seg":2},{"km":58.91,"depth":51.2,"series":"blue","seg":2},{"km":59.03,"depth":47.6,"series":"blue","seg":2},{"km":59.17,"depth":48.8,"series":"blue","seg":2},{"km":59.31,"depth":47.6,"series":"blue","seg":2},{"km":59.46,"depth":48.2,"series":"blue","seg":2},{"km":59.6,"depth":46.4,"series":"blue","seg":2},{"km":59.74,"depth":44.1,"series":"blue","seg":2},{"km":59.89,"depth":41.7,"series":"blue","seg":2},{"km":60.03,"depth":40.5,"series":"blue","seg":2},{"km":60.18,"depth":38.8,"series":"blue","seg":2},{"km":60.32,"depth":37.2,"series":"blue","seg":2},{"km":60.46,"depth":37.6,"series":"blue","seg":2},{"km":60.55,"depth":40.5,"series":"blue","seg":2},{"km":60.69,"depth":43.5,"series":"blue","seg":2},{"km":60.89,"depth":45.3,"series":"blue","seg":2},{"km":61.04,"depth":47,"series":"blue","seg":2},{"km":61.18,"depth":50,"series":"blue","seg":2},{"km":61.33,"depth":51.2,"series":"blue","seg":2},{"km":61.47,"depth":52.3,"series":"blue","seg":2},{"km":61.61,"depth":54.1,"series":"blue","seg":2},{"km":61.76,"depth":54.7,"series":"blue","seg":2},{"km":61.9,"depth":55.9,"series":"blue","seg":2},{"km":62.05,"depth":57.1,"series":"blue","seg":2},{"km":62.19,"depth":59.4,"series":"blue","seg":2},{"km":62.33,"depth":60.6,"series":"blue","seg":2},{"km":62.48,"depth":60.6,"series":"blue","seg":2},{"km":62.62,"depth":61.2,"series":"blue","seg":2},{"km":62.77,"depth":60.9,"series":"blue","seg":2},{"km":62.91,"depth":61.6,"series":"blue","seg":2},{"km":63.05,"depth":61.2,"series":"blue","seg":2},{"km":63.2,"depth":61.8,"series":"blue","seg":2},{"km":63.34,"depth":61.2,"series":"blue","seg":2},{"km":63.48,"depth":62.4,"series":"blue","seg":2},{"km":63.63,"depth":61.8,"series":"blue","seg":2},{"km":63.77,"depth":63.6,"series":"blue","seg":2},{"km":63.92,"depth":64.2,"series":"blue","seg":2},{"km":64.07,"depth":65.4,"series":"blue","seg":2},{"km":64.21,"depth":66.5,"series":"blue","seg":2},{"km":64.36,"depth":68.3,"series":"blue","seg":2},{"km":64.5,"depth":70.1,"series":"blue","seg":2},{"km":64.64,"depth":72.4,"series":"blue","seg":2},{"km":64.79,"depth":73,"series":"blue","seg":2},{"km":64.93,"depth":70.7,"series":"blue","seg":2},{"km":65.07,"depth":67.7,"series":"blue","seg":2},{"km":65.22,"depth":64.8,"series":"blue","seg":2},{"km":65.36,"depth":62.4,"series":"blue","seg":2},{"km":65.51,"depth":60,"series":"blue","seg":2},{"km":65.65,"depth":57.7,"series":"blue","seg":2},{"km":65.8,"depth":56.7,"series":"blue","seg":2},{"km":65.94,"depth":56.7,"series":"blue","seg":2},{"km":66.08,"depth":58.3,"series":"blue","seg":2},{"km":66.23,"depth":60.6,"series":"blue","seg":2},{"km":66.37,"depth":63,"series":"blue","seg":2},{"km":66.52,"depth":64.2,"series":"blue","seg":2},{"km":66.66,"depth":65.4,"series":"blue","seg":2},{"km":66.8,"depth":68.9,"series":"blue","seg":2},{"km":66.95,"depth":73,"series":"blue","seg":2},{"km":67.09,"depth":74.2,"series":"blue","seg":2},{"km":67.23,"depth":75.4,"series":"blue","seg":2},{"km":67.38,"depth":76.6,"series":"blue","seg":2},{"km":67.52,"depth":77.8,"series":"blue","seg":2},{"km":67.66,"depth":79.5,"series":"blue","seg":2},{"km":67.81,"depth":81.3,"series":"blue","seg":2},{"km":67.95,"depth":81.9,"series":"blue","seg":2},{"km":68.1,"depth":80.1,"series":"blue","seg":2},{"km":68.24,"depth":79,"series":"blue","seg":2},{"km":68.39,"depth":77.8,"series":"blue","seg":2},{"km":68.53,"depth":76,"series":"blue","seg":2},{"km":68.67,"depth":75,"series":"blue","seg":2},{"km":68.82,"depth":75.4,"series":"blue","seg":2},{"km":68.96,"depth":74.8,"series":"blue","seg":2},{"km":69.1,"depth":75,"series":"blue","seg":2},{"km":69.24,"depth":74.8,"series":"blue","seg":2},{"km":69.37,"depth":74.1,"series":"blue","seg":2},{"km":69.51,"depth":74.8,"series":"blue","seg":2},{"km":69.66,"depth":75.6,"series":"blue","seg":2},{"km":69.81,"depth":75.6,"series":"blue","seg":2},{"km":69.95,"depth":75.6,"series":"blue","seg":2},{"km":70.09,"depth":76.4,"series":"blue","seg":2},{"km":70.24,"depth":79.6,"series":"blue","seg":2},{"km":70.38,"depth":82,"series":"blue","seg":2},{"km":70.52,"depth":86,"series":"blue","seg":2},{"km":70.67,"depth":93.9,"series":"blue","seg":2},{"km":70.81,"depth":100.2,"series":"blue","seg":2},{"km":70.95,"depth":106.5,"series":"blue","seg":2},{"km":71.1,"depth":111.3,"series":"blue","seg":2},{"km":71.24,"depth":116,"series":"blue","seg":2},{"km":71.39,"depth":125.5,"series":"blue","seg":2},{"km":71.53,"depth":135,"series":"blue","seg":2},{"km":71.67,"depth":144.5,"series":"blue","seg":2},{"km":71.82,"depth":152.4,"series":"blue","seg":2},{"km":71.96,"depth":157.2,"series":"blue","seg":2},{"km":72.1,"depth":165.1,"series":"blue","seg":2},{"km":72.25,"depth":176.2,"series":"blue","seg":2},{"km":72.39,"depth":185.7,"series":"blue","seg":2},{"km":72.53,"depth":195.2,"series":"blue","seg":2},{"km":72.68,"depth":196.8,"series":"blue","seg":2},{"km":72.82,"depth":199.9,"series":"blue","seg":2},{"km":72.96,"depth":201.5,"series":"blue","seg":2},{"km":73.11,"depth":201.2,"series":"blue","seg":2},{"km":73.25,"depth":200.7,"series":"blue","seg":2},{"km":73.39,"depth":199.1,"series":"blue","seg":2},{"km":73.54,"depth":196.8,"series":"blue","seg":2},{"km":73.68,"depth":193.6,"series":"blue","seg":2},{"km":73.82,"depth":190.4,"series":"blue","seg":2},{"km":73.97,"depth":180.9,"series":"blue","seg":2},{"km":74.11,"depth":168.3,"series":"blue","seg":2},{"km":74.26,"depth":155.6,"series":"blue","seg":2},{"km":74.4,"depth":149.3,"series":"blue","seg":2},{"km":74.54,"depth":141.3,"series":"blue","seg":2},{"km":74.69,"depth":122.4,"series":"blue","seg":2},{"km":74.83,"depth":104.9,"series":"blue","seg":2},{"km":74.97,"depth":87.5,"series":"blue","seg":2},{"km":75.12,"depth":74.9,"series":"blue","seg":2},{"km":75.26,"depth":63.8,"series":"blue","seg":2},{"km":75.4,"depth":52.7,"series":"blue","seg":2},{"km":75.55,"depth":43.2,"series":"blue","seg":2},{"km":75.69,"depth":33.7,"series":"blue","seg":2},{"km":75.84,"depth":28.9,"series":"blue","seg":2},{"km":75.98,"depth":24.2,"series":"blue","seg":2},{"km":76.12,"depth":21,"series":"blue","seg":2},{"km":76.27,"depth":10,"series":"blue","seg":2},{"km":76.41,"depth":0.5,"series":"blue","seg":2},{"km":76.49,"depth":2,"series":"blue","seg":2},{"km":76.61,"depth":14.7,"series":"blue","seg":2},{"km":76.72,"depth":27.4,"series":"blue","seg":2},{"km":76.84,"depth":38.5,"series":"blue","seg":2},{"km":76.98,"depth":49.5,"series":"blue","seg":2},{"km":77.13,"depth":65.4,"series":"blue","seg":2},{"km":77.27,"depth":74.9,"series":"blue","seg":2},{"km":77.42,"depth":86,"series":"blue","seg":2},{"km":77.56,"depth":92.3,"series":"blue","seg":2},{"km":77.71,"depth":97,"series":"blue","seg":2},{"km":77.85,"depth":105,"series":"blue","seg":2},{"km":77.99,"depth":114.4,"series":"blue","seg":2},{"km":78.14,"depth":120.8,"series":"blue","seg":2},{"km":78.28,"depth":124.7,"series":"blue","seg":2},{"km":78.42,"depth":126.6,"series":"blue","seg":2},{"km":78.57,"depth":125.5,"series":"blue","seg":2},{"km":78.71,"depth":120.8,"series":"blue","seg":2},{"km":78.85,"depth":112.9,"series":"blue","seg":2},{"km":79,"depth":100.2,"series":"blue","seg":2},{"km":79.14,"depth":87.5,"series":"blue","seg":2},{"km":79.28,"depth":78,"series":"blue","seg":2},{"km":79.43,"depth":65.4,"series":"blue","seg":2},{"km":79.57,"depth":46.4,"series":"blue","seg":2},{"km":79.71,"depth":17.9,"series":"blue","seg":2},{"km":79.8,"depth":14.7,"series":"blue","seg":2},{"km":79.95,"depth":17.1,"series":"blue","seg":2},{"km":80.09,"depth":15.5,"series":"blue","seg":2},{"km":80.23,"depth":29,"series":"blue","seg":2},{"km":80.35,"depth":41.6,"series":"blue","seg":2},{"km":80.49,"depth":59,"series":"blue","seg":2},{"km":80.63,"depth":71.7,"series":"blue","seg":2},{"km":80.78,"depth":81.2,"series":"blue","seg":2},{"km":80.92,"depth":90.7,"series":"blue","seg":2},{"km":81.06,"depth":98.6,"series":"blue","seg":2},{"km":81.21,"depth":103.4,"series":"blue","seg":2},{"km":81.38,"depth":105,"series":"blue","seg":2},{"km":81.52,"depth":107.3,"series":"blue","seg":2},{"km":81.67,"depth":108.9,"series":"blue","seg":2},{"km":81.81,"depth":110.5,"series":"blue","seg":2},{"km":81.95,"depth":108.4,"series":"blue","seg":2},{"km":82.1,"depth":108.1,"series":"blue","seg":2},{"km":82.24,"depth":106.5,"series":"blue","seg":2},{"km":82.38,"depth":104.2,"series":"blue","seg":2},{"km":82.53,"depth":100.2,"series":"blue","seg":2},{"km":82.67,"depth":92.3,"series":"blue","seg":2},{"km":82.82,"depth":79.6,"series":"blue","seg":2},{"km":82.96,"depth":68.5,"series":"blue","seg":2},{"km":83.1,"depth":60.6,"series":"blue","seg":2},{"km":83.25,"depth":54.3,"series":"blue","seg":2},{"km":83.39,"depth":46.4,"series":"blue","seg":2},{"km":83.53,"depth":38.5,"series":"blue","seg":2},{"km":83.68,"depth":32.1,"series":"blue","seg":2},{"km":83.82,"depth":28.1,"series":"blue","seg":2},{"km":83.97,"depth":25.8,"series":"blue","seg":2},{"km":84.11,"depth":23.4,"series":"blue","seg":2},{"km":84.25,"depth":21,"series":"blue","seg":2},{"km":84.4,"depth":19.5,"series":"blue","seg":2},{"km":84.54,"depth":19.8,"series":"blue","seg":2}
 ]
},
"resolve": {"scale": {"y": "independent"}, "axis": {"x": "independent", "y": "independent"}},
"layer": [
 {
  "data": {"name": "labels"},
  "mark": {"type": "point", "opacity": 0},
  "encoding": {
   "x": {"field": "km", "type": "quantitative",
    "scale": {"domain": [0, 86.1], "range": [122, 1121], "nice": false, "zero": false},
    "axis": {"orient": "top", "offset": 0, "values": [0,10,20,30,40,50,60,70,80], "grid": true, "gridWidth": 1, "gridColor": "#8c8c8c", "domain": false, "labels": false, "ticks": false, "title": null}},
   "y": {"field": "depth", "type": "quantitative",
    "scale": {"domain": [-10, 240], "range": [723.5, 18.5], "nice": false, "zero": false},
    "axis": null}
  }
 },
 {
  "layer": [
   {
    "data": {"name": "profile"},
    "mark": {"type": "line", "strokeWidth": 2.2},
    "encoding": {
     "x": {"field": "km", "type": "quantitative",
      "scale": {"domain": [0, 86.1], "range": [122, 1121], "nice": false, "zero": false},
      "axis": {"orient": "bottom", "offset": -84.5, "values": [0,10,20,30,40,50,60,70,80], "grid": false, "domain": true, "domainWidth": 1.5, "ticks": true, "tickSize": 7, "tickWidth": 1.2, "labelPadding": 9, "labelFlush": false, "labelOverlap": false, "title": "Distance (km)", "titleX": 643, "titleY": 76.5, "titleBaseline": "alphabetic", "titleAlign": "center"}},
     "y": {"field": "depth", "type": "quantitative",
      "scale": {"domain": [-10, 240], "range": [723.5, 18.5], "nice": false, "zero": false},
      "axis": {"orient": "left", "offset": -122, "values": [-10,40,90,140,190,240], "labelExpr": "'' + datum.value", "grid": true, "gridWidth": 1, "domain": true, "domainWidth": 1.5, "ticks": true, "tickSize": 7, "tickWidth": 1.2, "labelPadding": 10, "labelFlush": false, "labelOverlap": false, "title": "Depth (m)", "titleX": -60, "titleBaseline": "alphabetic", "titleAlign": "center"}},
     "color": {"field": "series", "type": "nominal", "scale": {"domain": ["red", "blue"], "range": ["#ff3322", "#3300cc"]}, "legend": null},
     "detail": {"field": "seg", "type": "nominal"}
    }
   },
   {
    "data": {"name": "labels"},
    "mark": {"type": "text", "font": "Open Sans", "fontSize": 40, "align": "left", "baseline": "alphabetic", "color": "#000"},
    "encoding": {
     "x": {"field": "km", "type": "quantitative"},
     "y": {"field": "depth", "type": "quantitative"},
     "text": {"field": "label"}
    }
   },
   {
    "data": {"name": "craterLabels"},
    "mark": {"type": "text", "font": "Open Sans", "fontSize": 40, "align": "left", "baseline": "alphabetic", "angle": -35, "color": "#000"},
    "encoding": {
     "x": {"field": "km", "type": "quantitative"},
     "y": {"field": "depth", "type": "quantitative"},
     "text": {"field": "label"}
    }
   }
  ]
 },
 {
  "data": {"name": "labels"},
  "mark": {"type": "point", "opacity": 0},
  "encoding": {
   "x": {"field": "km", "type": "quantitative",
    "scale": {"domain": [0, 86.1], "range": [122, 1121], "nice": false, "zero": false},
    "axis": {"orient": "bottom", "offset": -84.5, "values": [0,2,4,6,8,10,12,14,16,18,20,22,24,26,28,30,32,34,36,38,40,42,44,46,48,50,52,54,56,58,60,62,64,66,68,70,72,74,76,78,80,82,84,86], "grid": false, "domain": false, "labels": false, "ticks": true, "tickSize": 7, "tickWidth": 1.2, "title": null}},
   "y": {"field": "depth", "type": "quantitative",
    "scale": {"domain": [-10, 240], "range": [723.5, 18.5], "nice": false, "zero": false},
    "axis": {"orient": "left", "offset": -122, "values": [-10,0,10,20,30,40,50,60,70,80,90,100,110,120,130,140,150,160,170,180,190,200,210,220,230,240], "grid": false, "domain": false, "labels": false, "ticks": true, "tickSize": 7, "tickWidth": 1.2, "title": null}}
  }
 },
 {
  "data": {"name": "labels"},
  "mark": {"type": "point", "opacity": 0},
  "encoding": {
   "x": {"field": "km", "type": "quantitative",
    "scale": {"domain": [0, 86.1], "range": [122, 1121], "nice": false, "zero": false},
    "axis": {"orient": "top", "offset": -723.5, "values": [0,2,4,6,8,10,12,14,16,18,20,22,24,26,28,30,32,34,36,38,40,42,44,46,48,50,52,54,56,58,60,62,64,66,68,70,72,74,76,78,80,82,84,86], "grid": false, "domain": false, "labels": false, "ticks": true, "tickSize": 7, "tickWidth": 1.2, "title": null}},
   "y": {"field": "depth", "type": "quantitative",
    "scale": {"domain": [-10, 240], "range": [723.5, 18.5], "nice": false, "zero": false},
    "axis": {"orient": "right", "offset": -999, "values": [-10,0,10,20,30,40,50,60,70,80,90,100,110,120,130,140,150,160,170,180,190,200,210,220,230,240], "grid": false, "domain": false, "labels": false, "ticks": true, "tickSize": 7, "tickWidth": 1.2, "title": null}}
  }
 },
 {
  "data": {"name": "labels"},
  "mark": {"type": "point", "opacity": 0},
  "encoding": {
   "y": {"field": "depth", "type": "quantitative",
    "scale": {"domain": [0, 1], "range": [808, -49], "nice": false, "zero": false},
    "axis": {"orient": "left", "offset": 54, "domain": true, "domainColor": "#ffffff", "domainWidth": 38, "ticks": false, "labels": false, "grid": false, "title": null}}
  }
 }
]
}
